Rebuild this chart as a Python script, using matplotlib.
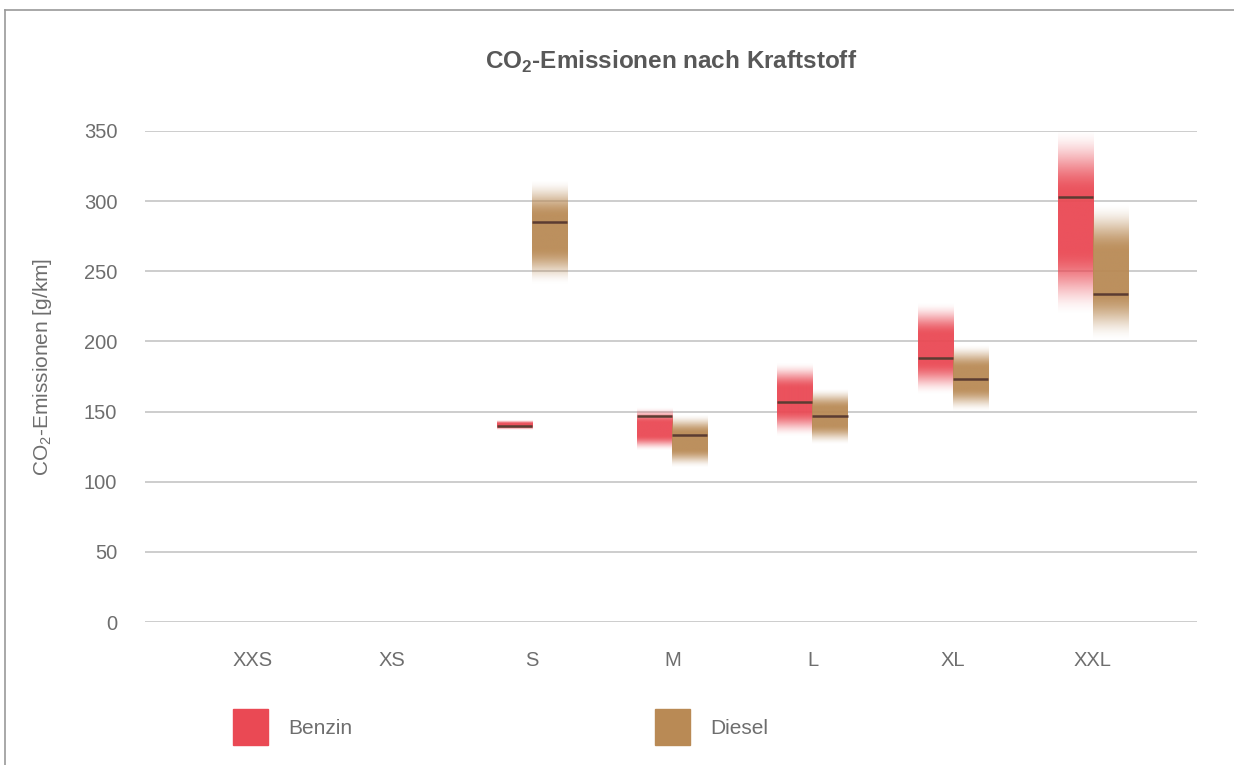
import numpy as np
import matplotlib
matplotlib.use("Agg")
import matplotlib.pyplot as plt
from matplotlib.colors import to_rgb
from matplotlib.patches import Rectangle
from matplotlib.lines import Line2D

plt.rcParams['font.family'] = ['Liberation Sans', 'DejaVu Sans']
plt.rcParams['mathtext.fontset'] = 'custom'
plt.rcParams['mathtext.rm'] = 'Liberation Sans'
plt.rcParams['mathtext.bf'] = 'Liberation Sans:bold'

# Daten (g/km): untere Grenze, obere Grenze, Median je Klasse
klassen = ['XXS', 'XS', 'S', 'M', 'L', 'XL', 'XXL']
benzin_min = [np.nan, np.nan, 137, 122, 132, 162, 218]
benzin_max = [np.nan, np.nan, 144, 153, 185, 228, 352]
benzin_med = [np.nan, np.nan, 140, 147, 157, 188, 303]
diesel_min = [np.nan, np.nan, 240, 110, 126, 150, 200]
diesel_max = [np.nan, np.nan, 315, 148, 166, 198, 298]
diesel_med = [np.nan, np.nan, 285, 133, 147, 173, 234]
yticks = [0, 50, 100, 150, 200, 250, 300, 350]

farbe_benzin = '#ea4954'
farbe_diesel = '#b98a55'
farbe_median = '#5b3c32'
grau_text = '#6e6e6e'

fig = plt.figure(figsize=(12.34, 7.65), dpi=100)
ax = fig.add_axes([145/1234, 143/765, 1052/1234, 491/765])

# Gitterlinien
for t in yticks:
    ax.axhline(t, color='#c9c9c9', lw=1.3, zorder=0)

breite = 0.25


def balken(x0, lo, hi, med, farbe):
    # senkrechter Verlauf, oben und unten weich ausgeblendet
    n = 300
    t = np.linspace(0, 1, n)
    f = 0.35
    u = np.clip(np.minimum(t, 1 - t) / f, 0, 1)
    alpha = u * u * (3 - 2 * u)
    rgba = np.zeros((n, 1, 4))
    rgba[:, 0, :3] = to_rgb(farbe)
    rgba[:, 0, 3] = alpha * 0.95
    ax.imshow(rgba, extent=(x0, x0 + breite, lo, hi), origin='lower',
              aspect='auto', interpolation='bilinear', zorder=2, clip_on=False)
    ax.plot([x0, x0 + breite], [med, med], color=farbe_median, lw=1.8, zorder=3,
            solid_capstyle='butt')


for i in range(len(klassen)):
    if not np.isnan(benzin_min[i]):
        balken(i - breite, benzin_min[i], benzin_max[i], benzin_med[i], farbe_benzin)
    if not np.isnan(diesel_min[i]):
        balken(i, diesel_min[i], diesel_max[i], diesel_med[i], farbe_diesel)

ax.set_xlim(-0.765, 6.745)
ax.set_ylim(0, 350)
ax.set_yticks(yticks)
ax.set_xticks(range(len(klassen)))
ax.set_xticklabels(klassen)
ax.tick_params(axis='y', length=0, pad=20, labelsize=14.5, labelcolor=grau_text)
ax.tick_params(axis='x', length=0, pad=21, labelsize=14.5, labelcolor=grau_text)
for s in ax.spines.values():
    s.set_visible(False)
ax.set_facecolor('none')

fig.text(43/1234, 1 - 367/765, 'CO$_2$-Emissionen [g/km]', rotation=90,
         ha='center', va='center', fontsize=15, color=grau_text)
fig.text(671/1234, 1 - 62/765, r'CO$_\mathbf{2}$-Emissionen nach Kraftstoff',
         ha='center', va='center', fontsize=17.5, fontweight='bold', color='#585858')

# Legende
for xs, xt, farbe, name in [(233, 288, farbe_benzin, 'Benzin'),
                            (655, 710, farbe_diesel, 'Diesel')]:
    fig.patches.append(Rectangle((xs/1234, 1 - 745/765), 35/1234, 36/765,
                                 transform=fig.transFigure, color=farbe))
    fig.text(xt/1234, 1 - 728/765, name, ha='left', va='center',
             fontsize=15, color=grau_text)

# Rahmen
fig.add_artist(Line2D([5/1234, 5/1234], [0, 1 - 10/765], color='#9a9a9a', lw=1.2))
fig.add_artist(Line2D([5/1234, 1], [1 - 10/765, 1 - 10/765], color='#9a9a9a', lw=1.2))

fig.savefig('out.png', dpi=100)
